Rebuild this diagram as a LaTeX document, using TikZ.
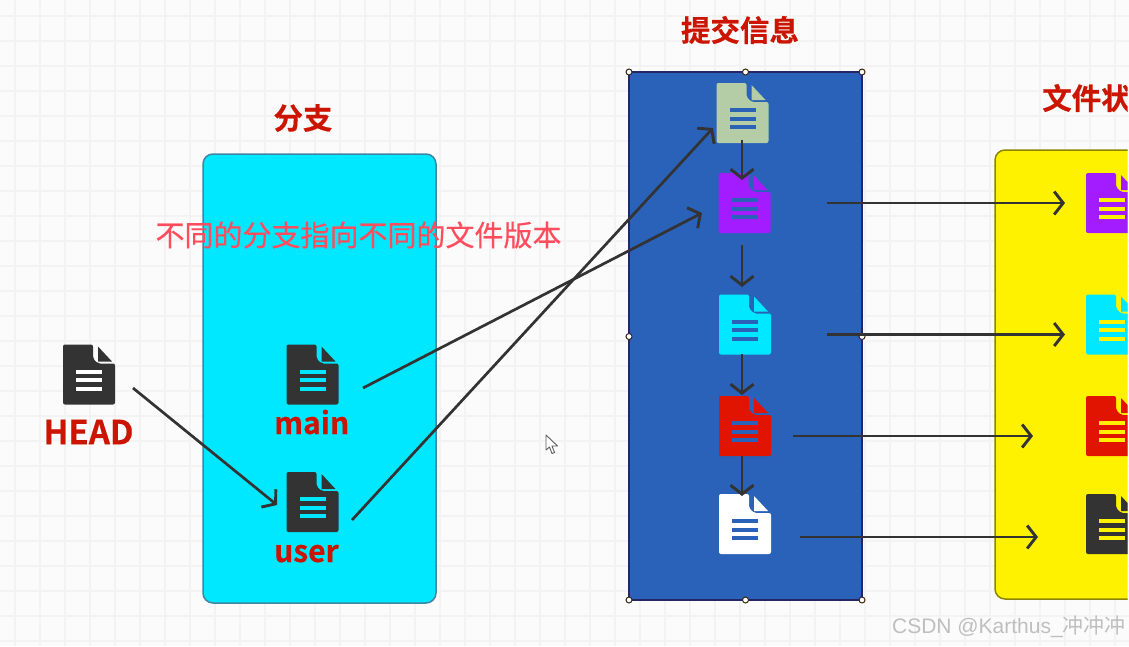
\documentclass[tikz,border=0pt]{standalone}
\usepackage{fontspec}
\usetikzlibrary{arrows.meta}
\setmainfont{Noto Sans}
\newfontfamily\cjk{Noto Sans CJK SC}
\newfontfamily\cjkheavy[FakeBold=0.5]{Noto Sans CJK SC Bold}
\newfontfamily\cjkmid[FakeBold=0.35]{Noto Sans CJK SC}
\newfontfamily\wm{Liberation Sans}
\definecolor{bgc}{HTML}{FBFBFB}
\definecolor{gridc}{HTML}{F3F3F3}
\definecolor{cyanbox}{HTML}{00E8FF}
\definecolor{bluebox}{HTML}{2962B8}
\definecolor{yellowbox}{HTML}{FFF200}
\definecolor{ink}{HTML}{333333}
\definecolor{titlered}{HTML}{CC1500}
\definecolor{iconred}{HTML}{E01400}
\definecolor{iconpurple}{HTML}{A31CFF}
\definecolor{icongreen}{HTML}{B5CDA6}
\definecolor{overlayred}{HTML}{FF4D5E}
\tikzset{
  x=1pt,y=-1pt,
  conn/.style={draw=ink,line width=2.7pt,-{Straight Barb[length=9pt,width=23pt,line width=2.9pt]}},
  panel/.style={rounded corners=10pt,inner sep=0pt,outer sep=0pt,anchor=north west},
  title/.style={font=\cjkheavy\fontsize{29.5}{30}\selectfont,text=titlered,inner sep=0pt},
  label/.style={font=\cjkheavy\fontsize{30}{32}\selectfont,text=titlered,inner sep=0pt},
  handlemark/.style={circle,draw=black!70!brown,fill=white,line width=1pt,minimum size=6pt,inner sep=0pt},
  iconbox/.style={minimum width=52pt,minimum height=60pt,inner sep=0pt}
}
% \docicon{name}{cx}{cy}{fill}{background}
\newcommand{\docicon}[5]{%
  \node[iconbox] (#1) at (#2,#3) {};
  \begin{scope}[shift={(#2,#3)}]
    \fill[#4,rounded corners=2pt] (-26,-30) -- (4,-30) -- (4,-16) -- (9,-11) -- (26,-11) -- (26,30) -- (-26,30) -- cycle;
    \fill[#4] (9,-28) -- (23,-13) -- (9,-13) -- cycle;
    \fill[#5] (-13,-5) rectangle (13,-1);
    \fill[#5] (-13,3.5) rectangle (13,7.5);
    \fill[#5] (-13,12) rectangle (13,16);
  \end{scope}}
\begin{document}
\begin{tikzpicture}
\fill[bgc] (0,0) rectangle (1129,646);
\useasboundingbox (0,0) rectangle (1129,646);
% grid
\foreach \k in {0,...,44} {\draw[gridc,line width=1.3pt] (15+25*\k,0) -- (15+25*\k,646);}
\foreach \k in {0,...,25} {\draw[gridc,line width=1.3pt] (0,16+25*\k) -- (1129,16+25*\k);}
% titles
\node[title] (tbranch) at (303,118) {分支};
\node[title] (tcommit) at (740,30) {提交信息};
% panels
\node[panel,draw=black!40!cyan,fill=cyanbox,line width=1.5pt,minimum width=233pt,minimum height=449pt] (branchbox) at (203,154) {};
\node[draw=ink!75!blue,fill=bluebox,line width=1.6pt,inner sep=0pt,outer sep=0pt,anchor=north west,minimum width=233pt,minimum height=528pt] (commitbox) at (629,72) {};
\begin{scope}
  \clip (0,0) rectangle (1127.5,646);
  \node[title,anchor=west] (tstate) at (1042,98) {文件状};
  \node[panel,draw=yellowbox!55!black,fill=yellowbox,line width=1.5pt,minimum width=160pt,minimum height=449pt] (statebox) at (995,150) {};
  \docicon{fa}{1112}{203}{iconpurple}{yellowbox}
  \docicon{fb}{1112}{324.5}{cyanbox}{yellowbox}
  \docicon{fc}{1112}{426}{iconred}{yellowbox}
  \docicon{fd}{1112}{524}{ink}{yellowbox}
\end{scope}
% handles
\node[handlemark] (h1) at (629,72) {};
\node[handlemark] (h2) at (745.5,72) {};
\node[handlemark] (h3) at (862,72) {};
\node[handlemark] (h4) at (629,336.5) {};
\node[handlemark] (h5) at (862,336.5) {};
\node[handlemark] (h6) at (629,600) {};
\node[handlemark] (h7) at (745.5,600) {};
\node[handlemark] (h8) at (862,600) {};
% icons
\docicon{head}{89}{374.5}{ink}{white}
\docicon{main}{312.5}{374.5}{ink}{cyanbox}
\docicon{user}{312.5}{502}{ink}{cyanbox}
\docicon{ca}{742.5}{113}{icongreen}{bluebox}
\docicon{cb}{744.5}{203}{iconpurple}{bluebox}
\docicon{cc}{745}{324.5}{cyanbox}{bluebox}
\docicon{cd}{745}{426}{iconred}{bluebox}
\docicon{ce}{745}{524}{white}{bluebox}
% labels
\node[label,font=\cjkheavy\fontsize{33}{34}\selectfont] (lhead) at (88.5,432) {HEAD};
\node[label,anchor=base west] (lmain) at (274,434) {main};
\node[label,anchor=base west] (luser) at (274,562) {user};
% connectors
\draw[conn] ([shift={(44,13.5)}]head.center) -- ([shift={(-35.5,3)}]user.center);
\draw[conn] ([shift={(50.5,13.5)}]main.center) -- ([shift={(-42.5,10)}]cb.center);
\draw[conn] ([shift={(39.5,18)}]user.center) -- ([shift={(-29.5,15)}]ca.center);
\draw[conn] ([shift={(-0.5,27)}]ca.center) -- ([shift={(-2.5,-23)}]cb.center);
\draw[conn] ([shift={(-2.5,42)}]cb.center) -- ([shift={(-3,-37.5)}]cc.center);
\draw[conn] ([shift={(-3,29.5)}]cc.center) -- ([shift={(-3,-31)}]cd.center);
\draw[conn] ([shift={(-3,30)}]cd.center) -- ([shift={(-3,-28)}]ce.center);
\draw[conn] ([shift={(82.5,0)}]cb.center) -- ([shift={(-47,0)}]fa.center);
\draw[conn] ([shift={(82,10)}]cc.center) -- ([shift={(-47,10)}]fb.center);
\draw[conn] ([shift={(48,10)}]cd.center) -- ([shift={(-79,10)}]fc.center);
\draw[conn] ([shift={(55,13)}]ce.center) -- ([shift={(-74,13)}]fd.center);
% overlay text
\node[inner sep=0pt,text=overlayred,font=\cjkmid\fontsize{29}{30}\selectfont] (overlay) at (358.5,235) {不同的分支指向不同的文件版本};
% cursor
\draw[fill=white,draw=ink!80,line width=0.9pt,line join=round] (546,435) -- (546,450) -- (549.5,447) -- (552,453.5) -- (554.5,452.5) -- (552,446) -- (557.5,446) -- cycle;
% watermark
\node[inner sep=0pt,anchor=east,text=black!25,font=\wm\fontsize{21}{22}\selectfont] (wmark) at (1126,627) {CSDN @Karthus\_{\cjk 冲冲冲}};
\end{tikzpicture}
\end{document}
